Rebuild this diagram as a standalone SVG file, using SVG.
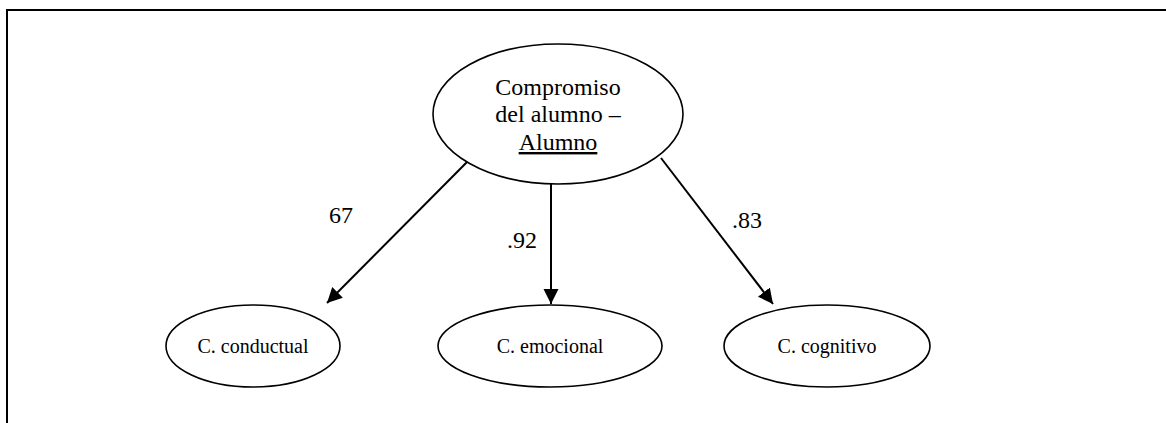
<svg xmlns="http://www.w3.org/2000/svg" width="1166" height="423" viewBox="0 0 1166 423">
  <style>
    .frame { fill: none; stroke: #000; stroke-width: 2; }
    .node { fill: #fff; stroke: #000; stroke-width: 1.6; }
    .label { font-family: "Liberation Serif", "Times New Roman", serif; fill: #000; text-anchor: middle; }
    .big { font-size: 24px; }
    .small { font-size: 20px; }
    .edge { stroke: #000; stroke-width: 2; fill: none; marker-end: url(#head); }
  </style>
  <defs>
    <marker id="head" markerUnits="userSpaceOnUse" markerWidth="16" markerHeight="16" refX="15" refY="7.5" orient="auto">
      <path d="M0,0 L15,7.5 L0,15 Z" fill="#000"/>
    </marker>
  </defs>
  <rect width="1166" height="423" fill="#fff"/>
  <!-- open frame: top edge and left edge -->
  <path class="frame" d="M7,423 V10 H1166"/>

  <g id="connectors">
    <line class="edge" x1="471" y1="158" x2="327" y2="303"/>
    <line class="edge" x1="551" y1="183" x2="551" y2="304"/>
    <line class="edge" x1="661" y1="158" x2="773" y2="304"/>
    <text class="label big" x="341" y="223">67</text>
    <text class="label big" x="522" y="248">.92</text>
    <text class="label big" x="747" y="228">.83</text>
  </g>

  <g id="compromiso">
    <ellipse class="node" cx="558" cy="114" rx="125" ry="70"/>
    <text class="label big" x="558" y="95">Compromiso</text>
    <text class="label big" x="558" y="122">del alumno –</text>
    <text class="label big" x="558" y="150" text-decoration="underline">Alumno</text>
  </g>

  <g id="conductual">
    <ellipse class="node" cx="253" cy="346" rx="87" ry="41"/>
    <text class="label small" x="253" y="353">C. conductual</text>
  </g>

  <g id="emocional">
    <ellipse class="node" cx="550" cy="346" rx="112" ry="41"/>
    <text class="label small" x="550" y="353">C. emocional</text>
  </g>

  <g id="cognitivo">
    <ellipse class="node" cx="827" cy="346" rx="103" ry="41"/>
    <text class="label small" x="827" y="353">C. cognitivo</text>
  </g>
</svg>
